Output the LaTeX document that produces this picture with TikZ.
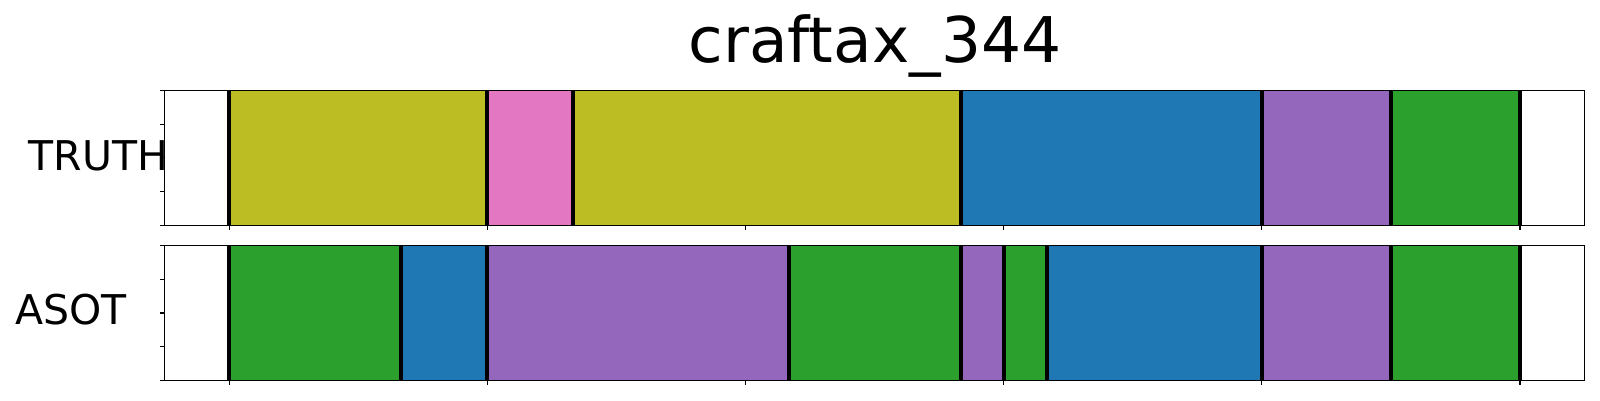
\documentclass[tikz,border=0pt]{standalone}
\usepackage{fontspec}
\setmainfont{DejaVu Sans}
\definecolor{tabolive}{HTML}{BCBD22}
\definecolor{tabpink}{HTML}{E377C2}
\definecolor{tabblue}{HTML}{1F77B4}
\definecolor{tabpurple}{HTML}{9467BD}
\definecolor{tabgreen}{HTML}{2CA02C}
\tikzset{
  boundline/.style={line width=4pt, black},
  axframe/.style={line width=1.1pt, black},
  axtick/.style={line width=1.1pt, black},
  rowlabel/.style={font=\fontsize{41}{41}\selectfont, inner sep=0pt, anchor=base west},
}
\begin{document}
\begin{tikzpicture}[x=1pt,y=1pt]
\useasboundingbox (0,0) rectangle (1600,400);
\node[font=\fontsize{63}{63}\selectfont, inner sep=0pt, anchor=base] (title) at (875,337.7) {craftax\_344};
\node[rowlabel] (truth) at (28.5,230) {TRUTH};
\node[rowlabel] (asot) at (15,75.5) {ASOT};
\begin{scope}[x=43.027pt, xshift=229.2pt]
  % TRUTH axes
  \foreach \a/\b/\c in {0/6/tabolive, 6/8/tabpink, 8/17/tabolive, 17/24/tabblue, 24/27/tabpurple, 27/30/tabgreen}
    \fill[\c] (\a,174.7) rectangle (\b,309.7);
  \foreach \b in {0,6,8,17,24,27,30}
    \draw[boundline] (\b,174.7) -- (\b,309.7);
  \draw[axframe] (-1.5,174.7) rectangle (31.5,309.7);
  \foreach \t in {0,6,12,18,24,30}
    \draw[axtick] (\t,174.7) -- ++(0,-4.7pt);
  \foreach \f in {0,0.25,0.5,0.75,1}
    \draw[axtick] (-1.5,{174.7+135*\f}) -- ++(-4.7pt,0);
  % ASOT axes
  \foreach \a/\b/\c in {0/4/tabgreen, 4/6/tabblue, 6/13/tabpurple, 13/17/tabgreen, 17/18/tabpurple, 18/19/tabgreen, 19/24/tabblue, 24/27/tabpurple, 27/30/tabgreen}
    \fill[\c] (\a,19.7) rectangle (\b,154.3);
  \foreach \b in {0,4,6,13,17,18,19,24,27,30}
    \draw[boundline] (\b,19.7) -- (\b,154.3);
  \draw[axframe] (-1.5,19.7) rectangle (31.5,154.3);
  \foreach \t in {0,6,12,18,24,30}
    \draw[axtick] (\t,19.7) -- ++(0,-4.7pt);
  \foreach \f in {0,0.25,0.5,0.75,1}
    \draw[axtick] (-1.5,{19.7+134.6*\f}) -- ++(-4.7pt,0);
\end{scope}
\end{tikzpicture}
\end{document}
